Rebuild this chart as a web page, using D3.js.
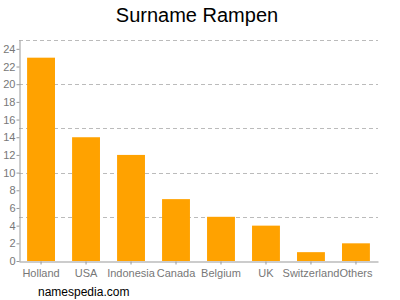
<!DOCTYPE html>
<html>
<head>
<meta charset="utf-8">
<script src="https://cdn.jsdelivr.net/npm/d3@7"></script>
<style>
  body { margin: 0; background: #fff; }
  svg { font-family: "Liberation Sans", Arial, sans-serif; }
</style>
</head>
<body>
<svg id="chart" width="400" height="300"></svg>
<script>
const countries = ['Holland', 'USA', 'Indonesia', 'Canada', 'Belgium', 'UK', 'Switzerland', 'Others'];
const counts = [23, 14, 12, 7, 5, 4, 1, 2];
const y_ticks = [0, 2, 4, 6, 8, 10, 12, 14, 16, 18, 20, 22, 24];
const grid_lines = [5, 10, 15, 20, 25];

const svg = d3.select('#chart');
const plot_left = 19, plot_right = 378, plot_top = 40, plot_bottom = 261;

const x = d3.scaleBand().domain(countries).range([plot_left, plot_right])
    .paddingInner(0.38).paddingOuter(0.18);
const y = d3.scaleLinear().domain([0, 25]).range([plot_bottom, plot_top]);

// title
svg.append('text')
    .attr('x', 197).attr('y', 22)
    .attr('text-anchor', 'middle')
    .attr('font-size', 20)
    .attr('fill', '#000')
    .text('Surname Rampen');

// dashed grid
svg.selectAll('.grid').data(grid_lines)
    .enter()
    .append('line')
    .attr('x1', plot_left).attr('x2', plot_right)
    .attr('y1', function(d) { return Math.round(y(d)) + 0.5; })
    .attr('y2', function(d) { return Math.round(y(d)) + 0.5; })
    .attr('stroke', '#bbb')
    .attr('stroke-dasharray', '4,3');

// bars
svg.selectAll('.bar').data(counts)
    .enter()
    .append('rect')
    .attr('x', function(d, i) { return x(countries[i]); })
    .attr('width', x.bandwidth())
    .attr('y', function(d) { return y(d); })
    .attr('height', function(d) { return plot_bottom - y(d); })
    .attr('fill', '#ffa200');

// y axis
const y_axis = svg.append('g')
    .attr('transform', 'translate(' + (plot_left + 0.5) + ',0)')
    .call(d3.axisLeft(y).tickValues(y_ticks).tickSize(3).tickSizeOuter(0));
y_axis.select('.domain').attr('stroke', '#999');
y_axis.selectAll('.tick line').attr('stroke', '#999');
y_axis.selectAll('text').attr('fill', '#777').attr('font-size', 11)
    .attr('font-family', '"Liberation Sans", Arial, sans-serif').attr('dx', 2);

// x axis
const x_axis = svg.append('g')
    .attr('transform', 'translate(0,' + (plot_bottom + 0.5) + ')')
    .call(d3.axisBottom(x).tickSize(3).tickSizeOuter(0));
x_axis.select('.domain').attr('stroke', '#999');
x_axis.selectAll('.tick line').attr('stroke', '#999');
x_axis.selectAll('text').attr('fill', '#777').attr('font-size', 11)
    .attr('font-family', '"Liberation Sans", Arial, sans-serif').attr('dy', '0.9em');

// footer
svg.append('text')
    .attr('x', 38).attr('y', 296)
    .attr('font-size', 12)
    .attr('fill', '#000')
    .text('namespedia.com');
</script>
</body>
</html>
